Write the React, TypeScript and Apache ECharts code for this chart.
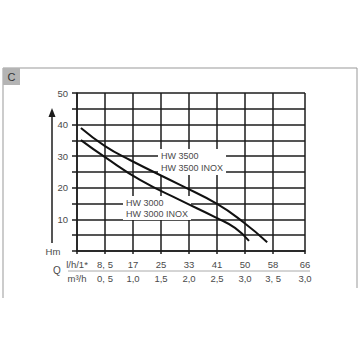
import React, { useEffect, useRef } from "react";
import * as echarts from "echarts";

// x axis is in grid-column units (columns are evenly spaced, last one a bit wider)
const xTickPositions = [0, 1, 2, 3, 4, 5, 6, 7, 8.14];
const qLitreLabels = ["l/h/1*", "8, 5", "17", "25", "33", "41", "50", "58", "66"];
const qCubicLabels = ["m³/h", "0, 5", "1,0", "1,5", "2,0", "2,5", "3,0", "3, 5", "3,0"];

const hw3500 = [
  [0.14, 38.9], [1.0, 33.2], [1.89, 28.8], [3.68, 20.9], [5.0, 14.9], [5.93, 9.2], [6.79, 2.8],
];
const hw3000 = [
  [0.14, 35.1], [1.0, 29.7], [2.25, 22.5], [3.68, 16.1], [5.0, 10.4], [5.64, 7.3], [6.14, 3.2],
];

const FONT = "'Liberation Sans', Arial, sans-serif";
const GRID = "#1c1c1c";
const TXT = "#4a4a4a";

export default function App() {
  const ref = useRef<HTMLDivElement>(null);
  useEffect(() => {
    const chart = echarts.init(ref.current!, null, { renderer: "svg" });
    const findIdx = (v: number) => xTickPositions.findIndex((p) => Math.abs(p - v) < 1e-6);
    chart.setOption({
      animation: false,
      grid: { left: 77, right: 55, top: 93, bottom: 109 },
      xAxis: {
        type: "value",
        min: 0,
        max: 8.14,
        axisLine: { show: true, lineStyle: { color: GRID, width: 1.5 } },
        axisTick: { show: true, customValues: xTickPositions, length: 3, lineStyle: { color: GRID, width: 1.5 } },
        splitLine: { show: true, lineStyle: { color: GRID, width: 1.5 } },
        axisLabel: {
          customValues: xTickPositions,
          margin: 6,
          color: TXT,
          fontFamily: FONT,
          fontSize: 9.5,
          lineHeight: 14,
          formatter: (v: number) => {
            const i = findIdx(v);
            return i < 0 ? "" : qLitreLabels[i] + "\n" + qCubicLabels[i];
          },
        },
      },
      yAxis: {
        type: "value",
        min: 0,
        max: 50,
        interval: 5,
        axisLine: { show: true, lineStyle: { color: GRID, width: 1.5 } },
        axisTick: { show: true, length: 5, lineStyle: { color: GRID, width: 1.5 } },
        splitLine: { show: true, lineStyle: { color: GRID, width: 1.5 } },
        axisLabel: {
          margin: 9,
          color: TXT,
          fontFamily: FONT,
          fontSize: 9.5,
          formatter: (v: number) => (v > 0 && v % 10 === 0 ? String(v) : ""),
        },
      },
      series: [
        {
          type: "line",
          z: 5,
          data: hw3500,
          smooth: true,
          symbol: "none",
          lineStyle: { color: "#111", width: 2 },
        },
        {
          type: "line",
          z: 5,
          data: hw3000,
          smooth: true,
          symbol: "none",
          lineStyle: { color: "#111", width: 2 },
        },
      ],
      graphic: [
        { type: "line", shape: { x1: 3, y1: 68, x2: 357, y2: 68 }, style: { stroke: "#999", lineWidth: 1 } },
        { type: "line", shape: { x1: 3, y1: 68, x2: 3, y2: 298 }, style: { stroke: "#999", lineWidth: 1 } },
        { type: "line", shape: { x1: 357, y1: 68, x2: 357, y2: 288 }, style: { stroke: "#999", lineWidth: 1 } },
        { type: "rect", shape: { x: 3, y: 68, width: 17, height: 17 }, style: { fill: "#b4b4b4" } },
        {
          type: "text",
          x: 11.5,
          y: 77,
          style: { text: "C", fontFamily: FONT, fontSize: 11, fill: "#333", align: "center", verticalAlign: "middle" },
        },
        // up arrow
        { type: "line", shape: { x1: 52, y1: 116, x2: 52, y2: 243 }, style: { stroke: GRID, lineWidth: 1.5 } },
        { type: "polygon", shape: { points: [[48.5, 117], [55.5, 117], [52, 108]] }, style: { fill: GRID } },
        {
          type: "text",
          x: 53,
          y: 251,
          style: { text: "Hm", fontFamily: FONT, fontSize: 9.5, fill: TXT, align: "center", verticalAlign: "middle" },
        },
        {
          type: "text",
          x: 57,
          y: 270,
          style: { text: "Q", fontFamily: FONT, fontSize: 10, fill: TXT, align: "center", verticalAlign: "middle" },
        },
        { type: "line", shape: { x1: 68, y1: 271, x2: 310, y2: 271 }, style: { stroke: "#aaa", lineWidth: 1 } },
        {
          type: "text",
          x: 158,
          y: 162,
          z: 1,
          style: {
            text: "HW 3500\nHW 3500 INOX",
            fontFamily: FONT,
            fontSize: 9,
            lineHeight: 12,
            fill: TXT,
            align: "left",
            verticalAlign: "middle",
            backgroundColor: "#fff",
            padding: [1, 3, 1, 3],
          },
        },
        {
          type: "text",
          x: 123,
          y: 208,
          z: 1,
          style: {
            text: "HW 3000\nHW 3000 INOX",
            fontFamily: FONT,
            fontSize: 9,
            lineHeight: 11,
            fill: TXT,
            align: "left",
            verticalAlign: "middle",
            backgroundColor: "#fff",
            padding: [1, 3, 1, 3],
          },
        },
      ],
    });
    return () => chart.dispose();
  }, []);
  return <div ref={ref} style={{ width: 360, height: 360, position: "absolute", left: 0, top: 0 }} />;
}
